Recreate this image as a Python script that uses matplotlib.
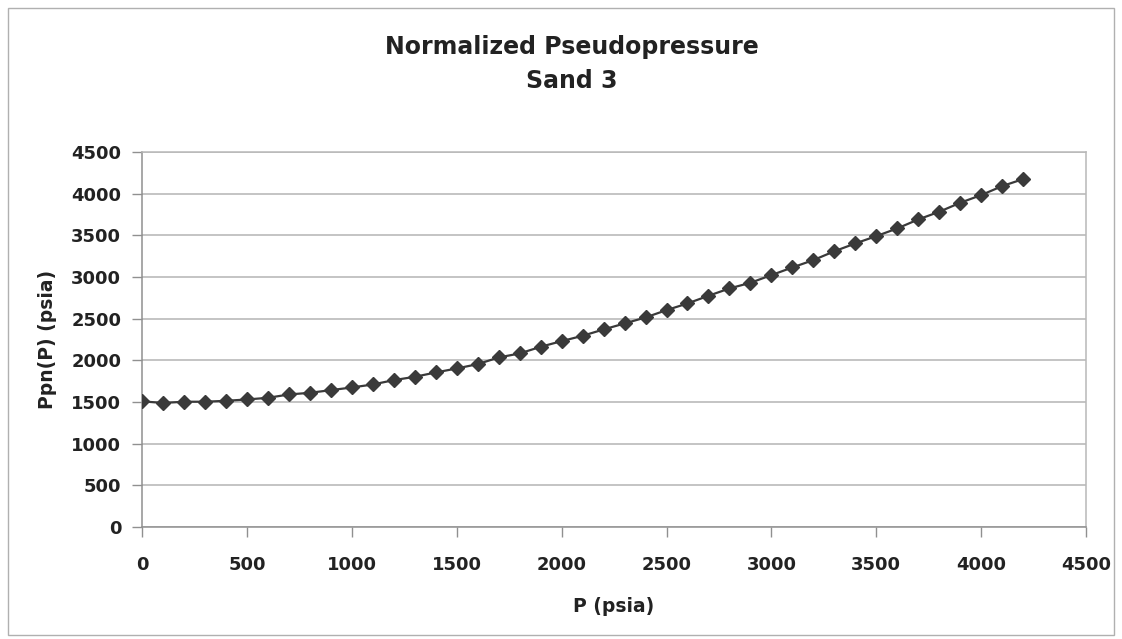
import matplotlib
matplotlib.use("Agg")
import matplotlib.pyplot as plt
from matplotlib.patches import Rectangle

# pressure (psia) and normalized pseudopressure
pressure = [0, 100, 200, 300, 400, 500, 600, 700, 800, 900,
            1000, 1100, 1200, 1300, 1400, 1500, 1600, 1700, 1800, 1900,
            2000, 2100, 2200, 2300, 2400, 2500, 2600, 2700, 2800, 2900,
            3000, 3100, 3200, 3300, 3400, 3500, 3600, 3700, 3800, 3900,
            4000, 4100, 4200]
ppn = [1510, 1490, 1505, 1505, 1516, 1532, 1552, 1592, 1612, 1644,
       1676, 1712, 1764, 1804, 1856, 1904, 1956, 2036, 2084, 2164,
       2232, 2296, 2372, 2444, 2516, 2604, 2684, 2776, 2864, 2932,
       3024, 3116, 3204, 3310, 3404, 3492, 3584, 3692, 3784, 3892,
       3984, 4092, 4176]

ticks = [0, 500, 1000, 1500, 2000, 2500, 3000, 3500, 4000, 4500]

plt.rcParams['font.family'] = ['DejaVu Sans']
plt.rcParams['font.weight'] = 'bold'

fig = plt.figure(figsize=(11.22, 6.39), dpi=100)
ax = fig.add_axes([0.1266, 0.175, 0.8414, 0.587])

ax.plot(pressure, ppn, color='#3a3a3a', lw=1.6, marker='D', markersize=7,
        markerfacecolor='#3a3a3a', markeredgecolor='#3a3a3a', zorder=3)

ax.set_xlim(0, 4500)
ax.set_ylim(0, 4500)
ax.set_xticks(ticks)
ax.set_yticks(ticks)
ax.grid(axis='y', color='#b4b4b4', lw=1.1)
ax.set_axisbelow(True)

for s in ax.spines.values():
    s.set_color('#b8b8b8')
    s.set_linewidth(1.1)
ax.spines['left'].set_color('#909090')
ax.spines['bottom'].set_color('#909090')

ax.tick_params(axis='both', direction='out', length=7, width=1, color='#909090',
               labelsize=13, labelcolor='#222222', pad=8)
ax.tick_params(axis='x', pad=14)
for lab in ax.get_xticklabels() + ax.get_yticklabels():
    lab.set_fontweight('bold')

ax.set_xlabel('P (psia)', fontsize=13.5, fontweight='bold', color='#222222', labelpad=16)
ax.set_ylabel('Ppn(P) (psia)', fontsize=13.5, fontweight='bold', color='#222222', labelpad=10)

fig.text(0.51, 0.927, 'Normalized Pseudopressure', ha='center', va='center',
         fontsize=17, fontweight='bold', color='#222222')
fig.text(0.51, 0.873, 'Sand 3', ha='center', va='center',
         fontsize=17, fontweight='bold', color='#222222')

fig.patches.append(Rectangle((8 / 1122, 4 / 639), 1106 / 1122, 627 / 639,
                             transform=fig.transFigure, fill=False,
                             edgecolor='#b0b0b0', lw=1))

fig.savefig('out.png', dpi=100)
